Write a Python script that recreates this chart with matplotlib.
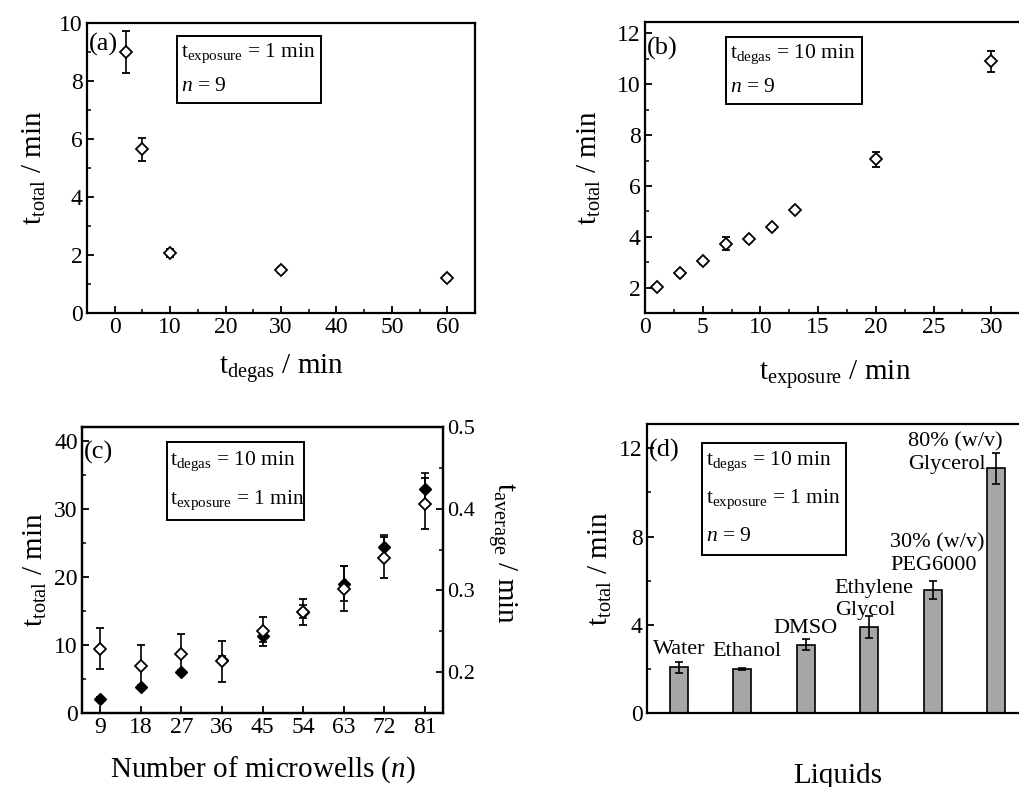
import matplotlib
matplotlib.use("Agg")
import matplotlib.pyplot as plt
from matplotlib.patches import Rectangle
from matplotlib.ticker import MultipleLocator

plt.rcParams['font.family'] = ['Liberation Serif', 'DejaVu Serif']
plt.rcParams['mathtext.fontset'] = 'custom'
plt.rcParams['mathtext.rm'] = 'Liberation Serif'
plt.rcParams['mathtext.it'] = 'Liberation Serif:italic'
plt.rcParams['xtick.direction'] = 'in'
plt.rcParams['ytick.direction'] = 'in'

# (a) t_total vs t_degas
degas_x = [2, 5, 10, 30, 60]
degas_y = [9.0, 5.65, 2.07, 1.47, 1.21]
degas_err = [0.73, 0.4, 0.15, 0.1, 0.1]

# (b) t_total vs t_exposure
exp_x = [1, 3, 5, 7, 9, 11, 13, 20, 30]
exp_y = [2.04, 2.57, 3.03, 3.73, 3.91, 4.38, 5.07, 7.05, 10.9]
exp_err = [0.08, 0.1, 0.1, 0.25, 0.1, 0.1, 0.1, 0.3, 0.4]

# (c) number of microwells
wells = [9, 18, 27, 36, 45, 54, 63, 72, 81]
wells_total = [2.1, 3.8, 6.0, 7.8, 11.3, 14.9, 19.0, 24.4, 32.9]
wells_total_err = [0.3, 0.3, 0.3, 0.5, 0.8, 1.0, 2.6, 1.7, 2.4]
wells_avg = [0.2285, 0.2077, 0.2228, 0.2135, 0.250, 0.2738, 0.3023, 0.3398, 0.4063]
wells_avg_err = [0.025, 0.026, 0.024, 0.025, 0.018, 0.016, 0.028, 0.025, 0.031]

# (d) liquids
liquids = ['Water', 'Ethanol', 'DMSO', 'Ethylene\nGlycol', '30% (w/v)\nPEG6000', '80% (w/v)\nGlycerol']
liq_y = [2.08, 1.98, 3.09, 3.9, 5.58, 11.1]
liq_err = [0.25, 0.05, 0.25, 0.5, 0.4, 0.7]

W, H = 1020, 787
fig = plt.figure(figsize=(W / 100, H / 100), dpi=100)

TICK = 17
LAB = 21


def px_axes(l, t, r, b):
    return fig.add_axes([l / W, 1 - b / H, (r - l) / W, (b - t) / H])


def style(ax):
    for s in ax.spines.values():
        s.set_linewidth(1.6)
    ax.tick_params(which='major', length=5, width=1.3, labelsize=TICK, pad=3)
    ax.tick_params(which='minor', length=3, width=1.1)


def info_box(ax, x0, y0, x1, y1, lines):
    ax.add_patch(Rectangle((x0, y0), x1 - x0, y1 - y0, transform=ax.transAxes,
                           fill=False, lw=1.4, ec='black', zorder=5))
    n = len(lines)
    step = (y1 - y0) / n
    for i, s in enumerate(lines):
        ax.text(x0 + 0.01, y1 - step * (i + 0.5), s, transform=ax.transAxes,
                fontsize=15.5, va='center', ha='left', zorder=6)


mk = dict(fmt='D', ms=6.5, mfc='white', mec='black', mew=1.3, ecolor='black',
          elinewidth=1.2, capsize=3, capthick=1.2)

# (a)
ax = px_axes(87, 23, 475, 313)
style(ax)
ax.errorbar(degas_x, degas_y, yerr=degas_err, **mk)
ax.set_xlim(-5, 65)
ax.set_ylim(0, 10)
ax.xaxis.set_major_locator(MultipleLocator(10))
ax.xaxis.set_minor_locator(MultipleLocator(5))
ax.yaxis.set_major_locator(MultipleLocator(2))
ax.yaxis.set_minor_locator(MultipleLocator(1))
ax.set_xlabel(r't$_{\mathrm{degas}}$ / min', fontsize=LAB, labelpad=10)
ax.set_ylabel(r't$_{\mathrm{total}}$ / min', fontsize=LAB, labelpad=8)
ax.text(0.005, 0.925, '(a)', transform=ax.transAxes, fontsize=19, va='center')
info_box(ax, 0.232, 0.724, 0.603, 0.955,
         [r't$_{\mathrm{exposure}}$ = 1 min', r'$n$ = 9'])

# (b)
ax = px_axes(645, 22, 1026, 313)
style(ax)
ax.errorbar(exp_x, exp_y, yerr=exp_err, **mk)
ax.set_xlim(0, 33)
ax.set_ylim(1, 12.45)
ax.xaxis.set_major_locator(MultipleLocator(5))
ax.xaxis.set_minor_locator(MultipleLocator(2.5))
ax.yaxis.set_major_locator(MultipleLocator(2))
ax.yaxis.set_minor_locator(MultipleLocator(1))
ax.set_xlabel(r't$_{\mathrm{exposure}}$ / min', fontsize=LAB, labelpad=14)
ax.set_ylabel(r't$_{\mathrm{total}}$ / min', fontsize=LAB, labelpad=10)
ax.text(0.005, 0.91, '(b)', transform=ax.transAxes, fontsize=19, va='center')
info_box(ax, 0.213, 0.718, 0.57, 0.948,
         [r't$_{\mathrm{degas}}$ = 10 min', r'$n$ = 9'])

# (c)
ax = px_axes(82, 427, 443, 713)
style(ax)
ax.errorbar(wells, wells_total, yerr=wells_total_err, fmt='D', ms=6.5, mfc='black',
            mec='black', ecolor='black', elinewidth=1.2, capsize=3, capthick=1.2)
ax.set_xlim(5, 85)
ax.set_ylim(0, 42)
ax.set_xticks(wells)
ax.yaxis.set_major_locator(MultipleLocator(10))
ax.yaxis.set_minor_locator(MultipleLocator(5))
ax.set_xlabel(r'Number of microwells ($n$)', fontsize=LAB, labelpad=12)
ax.set_ylabel(r't$_{\mathrm{total}}$ / min', fontsize=LAB, labelpad=4)
ax.text(0.005, 0.91, '(c)', transform=ax.transAxes, fontsize=19, va='center')
info_box(ax, 0.235, 0.675, 0.615, 0.948,
         [r't$_{\mathrm{degas}}$ = 10 min', r't$_{\mathrm{exposure}}$ = 1 min'])
ax2 = ax.twinx()
style(ax2)
ax2.tick_params(labelsize=16)
ax2.errorbar(wells, wells_avg, yerr=wells_avg_err, **mk)
ax2.set_ylim(0.15, 0.5)
ax2.yaxis.set_major_locator(MultipleLocator(0.1))
ax2.yaxis.set_minor_locator(MultipleLocator(0.05))
ax2.set_ylabel(r't$_{\mathrm{average}}$ / min', fontsize=LAB, rotation=270, va='center')
ax2.yaxis.set_label_coords(1.165, 0.56)

# (d)
ax = px_axes(647, 424, 1028, 713)
style(ax)
pos = list(range(1, len(liquids) + 1))
ax.bar(pos, liq_y, width=0.29, color='#a6a6a6', edgecolor='black', lw=1.2,
       yerr=liq_err, error_kw=dict(ecolor='black', elinewidth=1.2, capsize=3, capthick=1.2))
ax.set_xlim(0.5, 6.5)
ax.set_ylim(0, 13.1)
ax.set_xticks([])
ax.yaxis.set_major_locator(MultipleLocator(4))
ax.yaxis.set_minor_locator(MultipleLocator(2))
ax.set_xlabel('Liquids', fontsize=LAB, labelpad=36)
ax.set_ylabel(r't$_{\mathrm{total}}$ / min', fontsize=LAB)
ax.text(0.005, 0.91, '(d)', transform=ax.transAxes, fontsize=19, va='center')
info_box(ax, 0.144, 0.547, 0.522, 0.934,
         [r't$_{\mathrm{degas}}$ = 10 min', r't$_{\mathrm{exposure}}$ = 1 min', r'$n$ = 9'])
# label centre offsets from bar top
dx = [0.0, 0.08, 0.0, 0.08, 0.07, -0.64]
dy = [0.8, 0.82, 0.76, 1.25, 1.62, 0.68]
for p, v, name, ox, oy in zip(pos, liq_y, liquids, dx, dy):
    ax.text(p + ox, v + oy, name, fontsize=16, ha='center', va='center',
            multialignment='left', linespacing=1.25)

fig.savefig('out.png', dpi=100)
